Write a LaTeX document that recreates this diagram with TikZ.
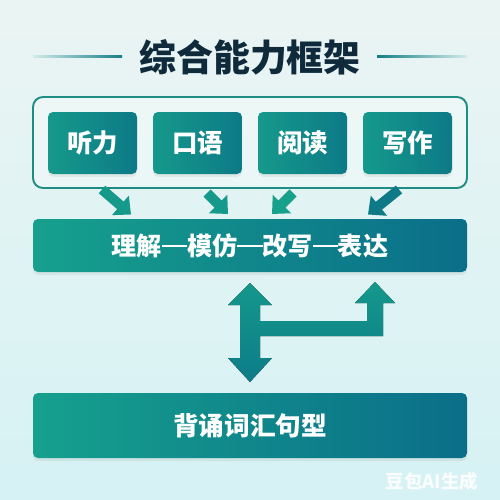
\documentclass[tikz,border=0pt]{standalone}
\usepackage{fontspec}
\setmainfont{Noto Sans CJK SC}
\usetikzlibrary{arrows.meta,shadows,calc}
\definecolor{bgtop}{HTML}{EAF4F3}
\definecolor{bgbot}{HTML}{D6F2F4}
\definecolor{titlec}{HTML}{0E2A3B}
\definecolor{linec}{HTML}{157F86}
\definecolor{linefade}{HTML}{D2EBEA}
\definecolor{boxL}{HTML}{15998B}
\definecolor{boxR}{HTML}{0D7A87}
\definecolor{barL}{HTML}{16A08D}
\definecolor{barR}{HTML}{0A6E89}
\definecolor{framec}{HTML}{1E8D84}
\definecolor{framefill}{HTML}{EFF9F8}
\definecolor{arA}{HTML}{14998A}
\definecolor{arB}{HTML}{17A08C}
\definecolor{arC}{HTML}{0E7A88}
\definecolor{dblT}{HTML}{14988B}
\definecolor{dblB}{HTML}{0D7C89}
\newcommand{\longdashmark}{\rule[0.33em]{1em}{0.085em}}
\tikzset{
  softshadow/.style={drop shadow={opacity=0.12, shadow xshift=0mm, shadow yshift=-0.6mm}},
  skill/.style={rounded corners=1mm, left color=boxL, right color=boxR, draw=none,
    minimum width=89*0.2mm, minimum height=62*0.2mm, inner sep=0pt,
    text=white, font=\fontsize{14.5pt}{17pt}\selectfont\bfseries, softshadow},
  bar/.style={rounded corners=1mm, left color=barL, right color=barR, draw=none,
    minimum width=434*0.2mm, inner sep=0pt,
    text=white, font=\fontsize{14.3pt}{17pt}\selectfont\bfseries, softshadow},
  flow/.style={line width=10*0.2mm, -{Triangle[width=25*0.2mm, length=14*0.2mm]}}
}
\begin{document}
\begin{tikzpicture}[x=0.2mm,y=-0.2mm]
\useasboundingbox (0,0) rectangle (500,500);
\shade[top color=bgtop, bottom color=bgbot] (0,0) rectangle (500,500);

% title
\node[text=titlec, font=\fontsize{21pt}{25pt}\selectfont\bfseries, inner sep=0pt] (title) at (250,57) {综合能力框架};
\shade[left color=linefade, right color=linec] (33,55.2) rectangle (122,57.2);
\shade[left color=linec, right color=linefade] (377,55.2) rectangle (467,57.2);

% outer frame
\node[draw=framec, line width=1.1pt, fill=framefill, fill opacity=0.7, rounded corners=2mm,
  minimum width=434*0.2mm, minimum height=91*0.2mm] (frame) at (250,142.5) {};

% skills
\node[skill] (s1) at (92.5,143) {听力};
\node[skill] (s2) at (197.5,143) {口语};
\node[skill] (s3) at (302.5,143) {阅读};
\node[skill] (s4) at (407.5,143) {写作};

% middle bar
\node[bar, minimum height=53*0.2mm] (mid) at (250,245.5) {理解\longdashmark 模仿\longdashmark 改写\longdashmark 表达};

% bottom bar
\node[bar, minimum height=65*0.2mm, font=\fontsize{14.6pt}{17pt}\selectfont\bfseries] (base) at (250,425.5) {背诵词汇句型};

% arrows from frame to middle bar
\coordinate (a1s) at (102,189.5);
\coordinate (a1e) at (131,214.5);
\coordinate (a2s) at (207,193);
\coordinate (a2e) at (228,214);
\coordinate (a3s) at (293,193);
\coordinate (a3e) at (272,214);
\coordinate (a4s) at (399,189.5);
\coordinate (a4e) at (368,214.5);
\draw[flow, arA] (a1s) -- (a1e);
\draw[flow, arA] (a2s) -- (a2e);
\draw[flow, arB] (a3s) -- (a3e);
\draw[flow, arC] (a4s) -- (a4e);

% double arrow shape between bars
\fill[top color=dblT, bottom color=dblB]
  (250,283) -- (272,305) -- (260,305) -- (260,321) -- (367,321) -- (367,303)
  -- (355,303) -- (375,282) -- (395,303) -- (383,303) -- (383,336) -- (260,336)
  -- (260,358) -- (272,358) -- (250,382) -- (228,358) -- (240,358) -- (240,305)
  -- (228,305) -- cycle;

% watermark
\node[text=white, opacity=0.85, font=\fontsize{10.5pt}{12pt}\selectfont\bfseries, inner sep=0pt] (wm) at (432,481) {豆包AI生成};
\end{tikzpicture}
\end{document}
